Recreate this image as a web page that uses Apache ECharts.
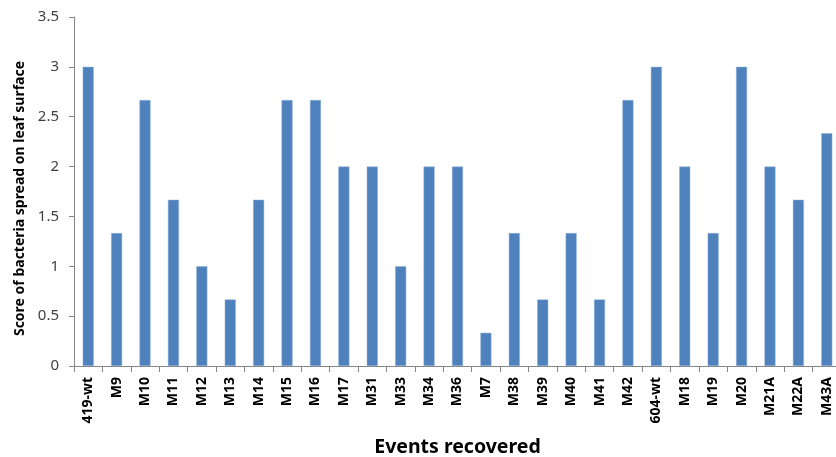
<!DOCTYPE html>
<html>
<head>
<meta charset="utf-8">
<script src="https://cdn.jsdelivr.net/npm/echarts@6/dist/echarts.min.js"></script>
<style>
  html, body { margin: 0; padding: 0; background: #fff; }
  #chart { width: 836px; height: 457px; }
</style>
</head>
<body>
<div id="chart"></div>
<script>
// Events recovered and their mean bacterial spread score on the leaf surface
const events = ['419-wt', 'M9', 'M10', 'M11', 'M12', 'M13', 'M14', 'M15', 'M16', 'M17',
  'M31', 'M33', 'M34', 'M36', 'M7', 'M38', 'M39', 'M40', 'M41', 'M42',
  '604-wt', 'M18', 'M19', 'M20', 'M21A', 'M22A', 'M43A'];
const scores = [3, 1.333, 2.667, 1.667, 1, 0.667, 1.667, 2.667, 2.667, 2,
  2, 1, 2, 2, 0.333, 1.333, 0.667, 1.333, 0.667, 2.667,
  3, 2, 1.333, 3, 2, 1.667, 2.333];
const yTicks = [0, 0.5, 1, 1.5, 2, 2.5, 3, 3.5];

const font = '"Noto Sans", "Open Sans", sans-serif';
const axisGray = '#868686';

const chart = echarts.init(document.getElementById('chart'), null, { renderer: 'canvas' });
chart.setOption({
  animation: false,
  grid: {
    left: 74, top: 17, width: 767, height: 349,
    containLabel: false, outerBoundsMode: 'none'
  },
  xAxis: {
    type: 'category',
    data: events,
    name: 'Events recovered',
    nameLocation: 'middle',
    nameGap: 71,
    nameMoveOverlap: false,
    nameTextStyle: { fontFamily: font, fontWeight: 'bold', fontSize: 19.5, color: '#000' },
    axisLine: { lineStyle: { color: axisGray } },
    axisTick: { show: true, alignWithLabel: false, length: 6, lineStyle: { color: axisGray } },
    axisLabel: {
      rotate: 90, interval: 0, margin: 11,
      fontFamily: font, fontWeight: 'bold', fontSize: 14, color: '#000'
    }
  },
  yAxis: {
    type: 'value',
    min: yTicks[0],
    max: yTicks[yTicks.length - 1],
    interval: 0.5,
    name: 'Score of bacteria spread on leaf surface',
    nameLocation: 'middle',
    nameGap: 47,
    nameMoveOverlap: false,
    nameTextStyle: {
      fontFamily: font, fontWeight: 'bold', fontSize: 14, color: '#000',
      padding: [0, 14, 0, 0]
    },
    splitLine: { show: false },
    axisLine: { show: true, lineStyle: { color: axisGray } },
    axisTick: { show: true, length: 5, lineStyle: { color: axisGray } },
    axisLabel: { margin: 15, fontFamily: font, fontSize: 15, color: '#404040' }
  },
  series: [{
    type: 'bar',
    data: scores,
    barWidth: 11,
    itemStyle: { color: '#4F81BD', borderColor: '#8fb0d8', borderWidth: 0.5 }
  }]
});
</script>
</body>
</html>
